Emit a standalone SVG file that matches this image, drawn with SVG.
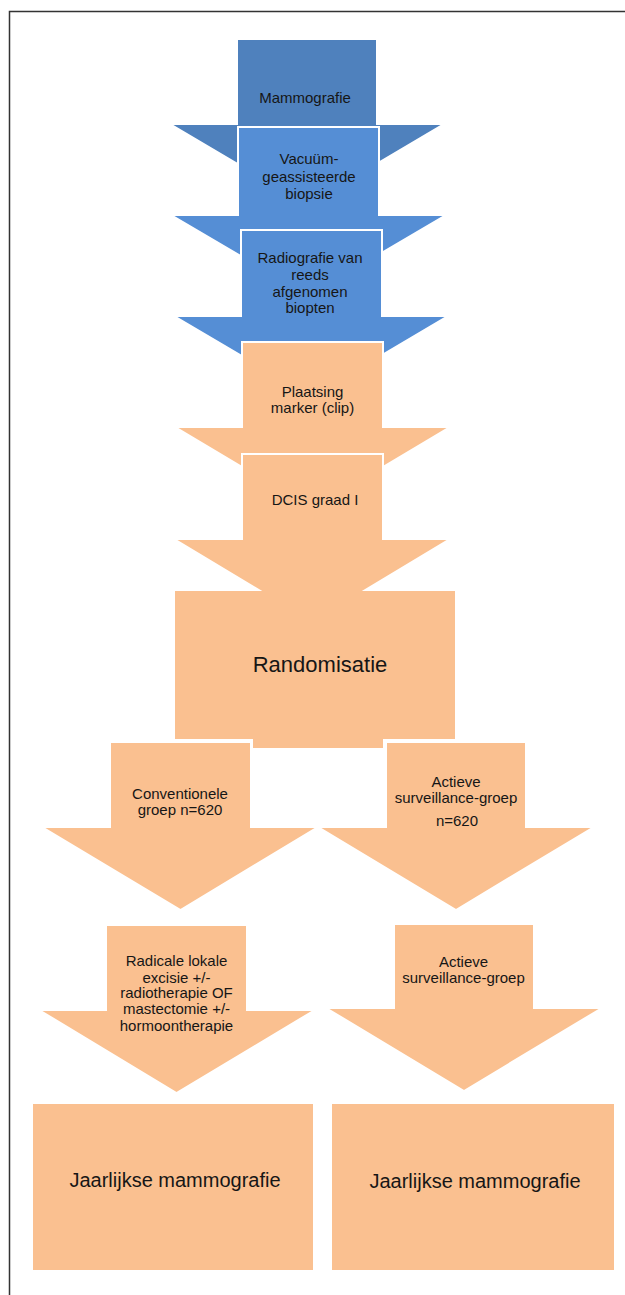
<svg xmlns="http://www.w3.org/2000/svg" width="625" height="1295" viewBox="0 0 625 1295">
  <style>
    .dblue { fill: #4F81BD; stroke: #FFFFFF; stroke-width: 2; }
    .blue { fill: #558ED5; stroke: #FFFFFF; stroke-width: 2; }
    .orange { fill: #FAC090; stroke: #FFFFFF; stroke-width: 2; }
    .orangeb { fill: #FAC090; stroke: none; }
    text { font-family: "Liberation Sans", Arial, sans-serif; fill: #161616; text-anchor: middle; }
    .s { font-size: 15px; }
    .l { font-size: 20px; }
    .xl { font-size: 22px; }
    .frame { stroke: #333333; stroke-width: 1.5; fill: none; }
  </style>
  <rect width="625" height="1295" fill="#FFFFFF"/>
  <path class="frame" d="M9.5 1295 V11.5 H625"/>

  <g id="n-mammografie">
    <polygon class="dblue" points="237,39 377,39 377,124 444,124 307,205 170,124 237,124"/>
    <text class="s" x="305" y="103">Mammografie</text>
  </g>
  <g id="n-vacuum">
    <polygon class="blue" points="238,127 379,127 379,215 446,215 308.5,296 171,215 238,215"/>
    <text class="s" x="309" y="164">Vacuüm-</text>
    <text class="s" x="309" y="182">geassisteerde</text>
    <text class="s" x="309" y="199">biopsie</text>
  </g>
  <g id="n-radiografie">
    <polygon class="blue" points="241,230 382,230 382,316 448,316 311,397 174,316 241,316"/>
    <text class="s" x="310" y="263">Radiografie van</text>
    <text class="s" x="310" y="280">reeds</text>
    <text class="s" x="310" y="297">afgenomen</text>
    <text class="s" x="310" y="313">biopten</text>
  </g>
  <g id="n-plaatsing">
    <polygon class="orange" points="242,342 383,342 383,427 450,427 312.5,509 175,427 242,427"/>
    <text class="s" x="312.5" y="397">Plaatsing</text>
    <text class="s" x="312.5" y="413">marker (clip)</text>
  </g>
  <g id="n-dcis">
    <polygon class="orange" points="242,454 383,454 383,539 450,539 312,622 174,539 242,539"/>
    <text class="s" x="315" y="505">DCIS graad I</text>
  </g>
  <g id="n-randomisatie">
    <polygon class="orangeb" points="175,591 455,591 455,739 383,739 383,748 253,748 253,739 175,739"/>
    <text class="xl" x="320" y="672">Randomisatie</text>
  </g>
  <g id="n-conventionele">
    <polygon class="orange" points="110,742 251,742 251,827 318,827 180.5,910 42,827 110,827"/>
    <text class="s" x="180" y="799">Conventionele</text>
    <text class="s" x="180" y="815">groep n=620</text>
  </g>
  <g id="n-actieve1">
    <polygon class="orange" points="386,742 526,742 526,827 594,827 456,910 318,827 386,827"/>
    <text class="s" x="456" y="787">Actieve</text>
    <text class="s" x="456" y="803">surveillance-groep</text>
    <text class="s" x="457" y="826">n=620</text>
  </g>
  <g id="n-radicale">
    <polygon class="orange" points="106,925 247,925 247,1010 315,1010 176.5,1093 39,1010 106,1010"/>
    <text class="s" x="176.5" y="966">Radicale lokale</text>
    <text class="s" x="176.5" y="983">excisie +/-</text>
    <text class="s" x="176.5" y="998">radiotherapie OF</text>
    <text class="s" x="176.5" y="1014">mastectomie +/-</text>
    <text class="s" x="176.5" y="1031">hormoontherapie</text>
  </g>
  <g id="n-actieve2">
    <polygon class="orange" points="394,924 534,924 534,1008 602,1008 464,1091 326,1008 394,1008"/>
    <text class="s" x="463.5" y="967">Actieve</text>
    <text class="s" x="463.5" y="983">surveillance-groep</text>
  </g>
  <g id="n-jaarlijks-links">
    <rect class="orangeb" x="33" y="1104" width="280" height="166"/>
    <text class="l" x="175" y="1187">Jaarlijkse mammografie</text>
  </g>
  <g id="n-jaarlijks-rechts">
    <rect class="orangeb" x="332" y="1104" width="282" height="166"/>
    <text class="l" x="475" y="1188">Jaarlijkse mammografie</text>
  </g>
  <g id="connectors"></g>
</svg>
